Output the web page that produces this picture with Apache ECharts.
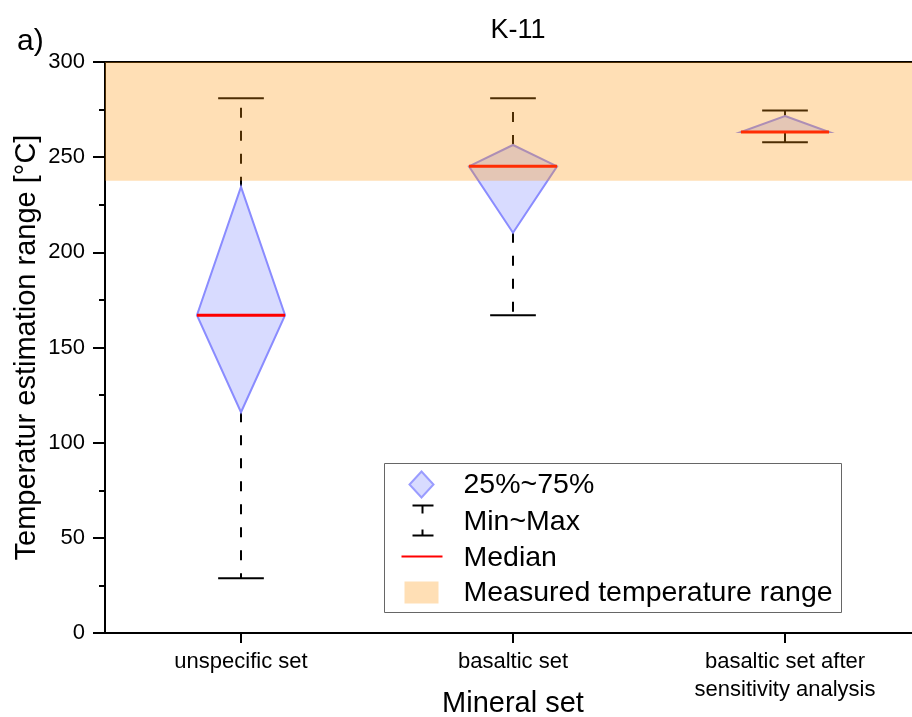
<!DOCTYPE html>
<html>
<head>
<meta charset="utf-8">
<script src="https://cdn.jsdelivr.net/npm/echarts@6/dist/echarts.min.js"></script>
<style>html,body{margin:0;padding:0;background:#fff}#c{width:912px;height:717px}</style>
</head>
<body>
<div id="c"></div>
<script>
const categories = ['unspecific set', 'basaltic set', 'basaltic set after\nsensitivity analysis'];
const minVals    = [28.8, 167.0, 257.8];
const q1Vals     = [116.0, 210.3, 263.2];
const medianVals = [167.0, 245.2, 263.2];
const q3Vals     = [234.4, 256.4, 271.6];
const maxVals    = [281.0, 281.0, 274.5];
const measuredRange = [237.6, 300];
const yTicks = [0, 50, 100, 150, 200, 250, 300];

const FONT = 'Liberation Sans, Arial, sans-serif';
const boxData = categories.map((c, i) => [i, minVals[i], q1Vals[i], medianVals[i], q3Vals[i], maxVals[i]]);

const chart = echarts.init(document.getElementById('c'), null, {renderer: 'canvas'});
chart.setOption({
  animation: false,
  textStyle: {fontFamily: FONT},
  title: [
    {text: 'K-11', left: 513, top: 12, textAlign: 'center',
     textStyle: {fontFamily: FONT, fontSize: 27, fontWeight: 'normal', color: '#000'}},
    {text: 'a)', left: 12, top: 22,
     textStyle: {fontFamily: FONT, fontSize: 30, fontWeight: 'normal', color: '#000'}}
  ],
  grid: {left: 105, top: 62, width: 816, height: 571, containLabel: false, outerBoundsMode: 'none',
         show: true, borderColor: '#000', borderWidth: 2, backgroundColor: 'transparent'},
  xAxis: {
    type: 'category', data: categories, boundaryGap: true,
    name: 'Mineral set', nameLocation: 'middle', nameGap: 56, nameMoveOverlap: false,
    nameTextStyle: {fontFamily: FONT, fontSize: 29, color: '#000'},
    axisLine: {lineStyle: {color: '#000', width: 2}},
    axisTick: {show: true, alignWithLabel: true, length: 10, lineStyle: {color: '#000', width: 2}},
    axisLabel: {fontFamily: FONT, fontSize: 22, color: '#000', margin: 15, lineHeight: 28, interval: 0},
    splitLine: {show: false}
  },
  yAxis: {
    type: 'value', min: yTicks[0], max: yTicks[yTicks.length - 1], interval: 50,
    name: 'Temperatur estimation range [°C]', nameLocation: 'middle', nameGap: 64, nameMoveOverlap: false,
    nameTextStyle: {fontFamily: FONT, fontSize: 29, color: '#000'},
    axisLine: {show: true, lineStyle: {color: '#000', width: 2}},
    axisTick: {show: true, length: 12, lineStyle: {color: '#000', width: 2}},
    minorTick: {show: true, splitNumber: 2, length: 6, lineStyle: {color: '#000', width: 2}},
    axisLabel: {fontFamily: FONT, fontSize: 22, color: '#000', margin: 20},
    splitLine: {show: false}
  },
  series: [
    {
      name: 'Min~Max', type: 'custom', z: 2, data: boxData,
      encode: {x: 0, y: [1, 2, 3, 4, 5]},
      renderItem(params, api) {
        const idx = api.value(0);
        const x = api.coord([idx, 0])[0];
        const yMin = api.coord([idx, api.value(1)])[1];
        const yQ1 = api.coord([idx, api.value(2)])[1];
        const yQ3 = api.coord([idx, api.value(4)])[1];
        const yMax = api.coord([idx, api.value(5)])[1];
        const cw = api.size([1, 0])[0] * 0.084;
        const st = {stroke: '#000', lineWidth: 2};
        const dst = {stroke: '#000', lineWidth: 2, lineDash: [10, 13]};
        return {type: 'group', children: [
          {type: 'line', shape: {x1: x - cw, y1: yMax, x2: x + cw, y2: yMax}, style: st},
          {type: 'line', shape: {x1: x - cw, y1: yMin, x2: x + cw, y2: yMin}, style: st},
          {type: 'line', shape: {x1: x, y1: yQ3, x2: x, y2: yMax}, style: dst},
          {type: 'line', shape: {x1: x, y1: yQ1, x2: x, y2: yMin}, style: dst}
        ]};
      }
    },
    {
      name: '25%~75%', type: 'custom', z: 3, data: boxData,
      encode: {x: 0, y: [1, 2, 3, 4, 5]},
      renderItem(params, api) {
        const idx = api.value(0);
        const x = api.coord([idx, 0])[0];
        const yQ1 = api.coord([idx, api.value(2)])[1];
        const yMed = api.coord([idx, api.value(3)])[1];
        const yQ3 = api.coord([idx, api.value(4)])[1];
        const hw = api.size([1, 0])[0] * 0.162;
        return {type: 'polygon', shape: {points: [[x, yQ3], [x + hw, yMed], [x, yQ1], [x - hw, yMed]]},
          style: {fill: 'rgba(125,135,255,0.3)', stroke: '#8a8cff', lineWidth: 2, lineJoin: 'miter'}};
      }
    },
    {
      name: 'Median', type: 'custom', z: 4, data: boxData,
      encode: {x: 0, y: [1, 2, 3, 4, 5]},
      renderItem(params, api) {
        const idx = api.value(0);
        const x = api.coord([idx, 0])[0];
        const yMed = api.coord([idx, api.value(3)])[1];
        const hw = api.size([1, 0])[0] * 0.162;
        return {type: 'line', shape: {x1: x - hw, y1: yMed, x2: x + hw, y2: yMed},
          style: {stroke: '#ff0000', lineWidth: 3}};
      }
    },
    {
      name: 'Measured temperature range', type: 'custom', z: 6, data: [measuredRange],
      encode: {y: [0, 1]},
      renderItem(params, api) {
        const cs = params.coordSys;
        const yLo = api.coord([0, api.value(0)])[1];
        const yHi = api.coord([0, api.value(1)])[1];
        return {type: 'rect', shape: {x: cs.x, y: yHi, width: cs.width, height: yLo - yHi},
          style: {fill: 'rgba(255,150,10,0.3)'}};
      }
    }
  ],
  graphic: [{
    type: 'group', left: 384, top: 463, z: 100,
    children: [
      {type: 'rect', shape: {x: 0, y: 0, width: 457, height: 149}, style: {fill: '#fff', stroke: '#666', lineWidth: 1}},
      {type: 'polygon', shape: {points: [[37, 8], [49, 21], [37, 34], [25, 21]]}, style: {fill: 'rgba(125,135,255,0.3)', stroke: '#9a9cff', lineWidth: 2}},
      {type: 'text', x: 79, y: 22, style: {text: '25%~75%', fontFamily: FONT, fontSize: 28.5, fill: '#000', verticalAlign: 'middle'}},
      {type: 'line', shape: {x1: 28, y1: 42, x2: 49, y2: 42}, style: {stroke: '#000', lineWidth: 2}},
      {type: 'line', shape: {x1: 38, y1: 42, x2: 38, y2: 50}, style: {stroke: '#000', lineWidth: 2}},
      {type: 'line', shape: {x1: 28, y1: 72, x2: 49, y2: 72}, style: {stroke: '#000', lineWidth: 2}},
      {type: 'line', shape: {x1: 38, y1: 66, x2: 38, y2: 72}, style: {stroke: '#000', lineWidth: 2}},
      {type: 'text', x: 79, y: 59, style: {text: 'Min~Max', fontFamily: FONT, fontSize: 28.5, fill: '#000', verticalAlign: 'middle'}},
      {type: 'line', shape: {x1: 17, y1: 93, x2: 58, y2: 93}, style: {stroke: '#ff0000', lineWidth: 2}},
      {type: 'text', x: 79, y: 95, style: {text: 'Median', fontFamily: FONT, fontSize: 28.5, fill: '#000', verticalAlign: 'middle'}},
      {type: 'rect', shape: {x: 20, y: 118, width: 34, height: 22}, style: {fill: 'rgba(255,150,10,0.3)'}},
      {type: 'text', x: 79, y: 130, style: {text: 'Measured temperature range', fontFamily: FONT, fontSize: 28.5, fill: '#000', verticalAlign: 'middle'}}
    ]
  }]
});
</script>
</body>
</html>
